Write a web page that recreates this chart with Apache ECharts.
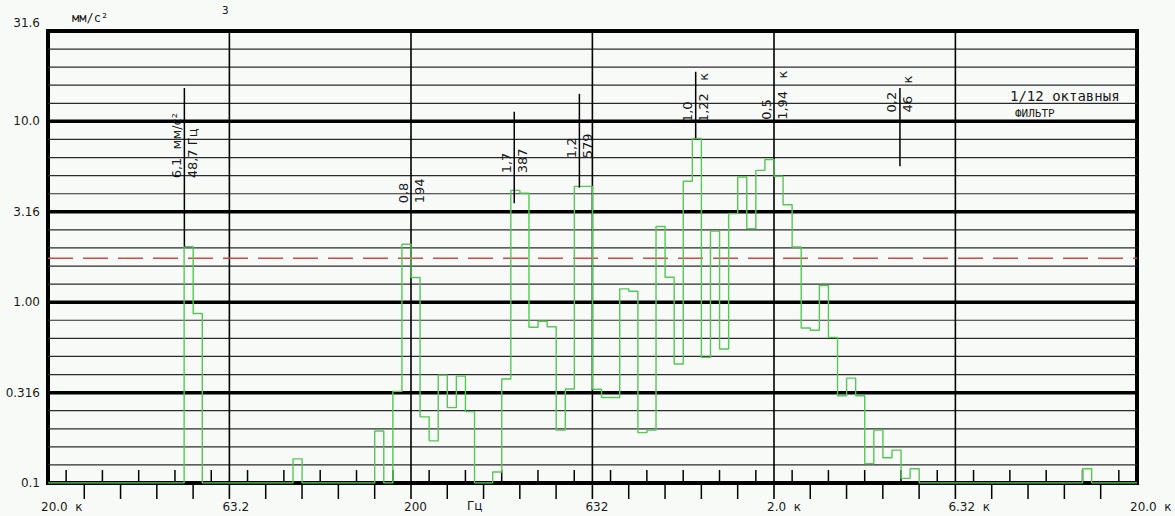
<!DOCTYPE html>
<html>
<head>
<meta charset="utf-8">
<script src="https://cdn.jsdelivr.net/npm/echarts@6/dist/echarts.min.js"></script>
<style>
html,body{margin:0;padding:0;background:#f8faf8;}
#c{width:1175px;height:516px;}
</style>
</head>
<body>
<div id="c"></div>
<script>
// ---------- DATA ----------
// 1/12-octave band levels (mm/s²), 120 bands from 20 Hz to 20 kHz; 0.1 = floor of the scale
const bandLevels = [
  0.1, 0.1, 0.1, 0.1, 0.1, 0.1, 0.1, 0.1, 0.1, 0.1,
  0.1, 0.1, 0.1, 0.1, 0.1, 2.03, 0.865, 0.1, 0.1, 0.1,
  0.1, 0.1, 0.1, 0.1, 0.1, 0.1, 0.1, 0.136, 0.1, 0.1,
  0.1, 0.1, 0.1, 0.1, 0.1, 0.1, 0.194, 0.1, 0.321, 2.09,
  1.37, 0.232, 0.171, 0.395, 0.261, 0.39, 0.248, 0.1, 0.1, 0.115,
  0.376, 4.15, 4.01, 0.726, 0.784, 0.732, 0.196, 0.331, 4.37, 4.37,
  0.33, 0.297, 0.297, 1.185, 1.149, 0.19, 0.196, 2.62, 1.374, 0.455,
  4.66, 8.04, 0.495, 2.47, 0.551, 3.09, 4.92, 2.55, 5.36, 6.15,
  4.97, 3.46, 2.02, 0.72, 0.70, 1.236, 0.639, 0.304, 0.38, 0.304,
  0.128, 0.196, 0.138, 0.152, 0.106, 0.12, 0.1, 0.1, 0.1, 0.1,
  0.1, 0.1, 0.1, 0.1, 0.1, 0.1, 0.1, 0.1, 0.1, 0.1,
  0.1, 0.1, 0.1, 0.1, 0.12, 0.1, 0.1, 0.1, 0.1, 0.1
];
const bandsPerDecade = 40;

const yMajorValues = [0.1, 0.316, 1.0, 3.16, 10.0, 31.6];
const yMajorLabels = ['0.1', '0.316', '1.00', '3.16', '10.0', '31.6'];

const xMajorFreqs = [20, 63.2, 200, 632, 2000, 6320, 20000];
const xMajorLabels = ['20.0  к', '63.2', '200', '632', '2.0  к', '6.32  к', '20.0  к'];

const limitLevel = 1.75;

// peak markers
const markerFreqs   = [47.5, 200, 385, 582, 1217, 2000, 4446];
const markerTops    = [15.3, null, 11.3, 14.2, 18.8, null, 15.3];
const markerBottoms = [2.03, null, 3.53, 4.30, 8.07, null, 5.65];
const markerTextA   = ['6,1  мм/с²', '0,8', '1,7', '1,2', '1,0', '0,5', '0,2'];
const markerTextB   = ['48,7 Гц', '194', '387', '579', '1,22   к', '1,94   к', '46   к'];
const markerTextEnd = [4.84, 3.52, 5.16, 6.25, 9.9, 10.2, 11.2];

// ---------- BUILD ----------
const X_MIN = xMajorFreqs[0], X_MAX = xMajorFreqs[xMajorFreqs.length - 1];
const Y_MIN = yMajorValues[0], Y_MAX = yMajorValues[yMajorValues.length - 1];

const stepData = [];
bandLevels.forEach((v, k) => {
  const lo = X_MIN * Math.pow(10, k / bandsPerDecade);
  const hi = X_MIN * Math.pow(10, (k + 1) / bandsPerDecade);
  stepData.push([lo, v], [hi, v]);
});

const hGridData = [];
for (let i = 0; i < yMajorValues.length; i++) {
  if (i > 0 && i < yMajorValues.length - 1) hGridData.push([X_MIN, yMajorValues[i], 1]);
  if (i < yMajorValues.length - 1) {
    const a = yMajorValues[i], b = yMajorValues[i + 1];
    for (let j = 1; j < 5; j++) hGridData.push([X_MIN, a * Math.pow(b / a, j / 5), 0]);
  }
}
const vGridData = xMajorFreqs.slice(1, -1).map(f => [f, Y_MIN]);

const tickData = [];
for (let i = 0; i < xMajorFreqs.length - 1; i++) {
  const a = xMajorFreqs[i], b = xMajorFreqs[i + 1];
  for (let j = 1; j < 10; j++) tickData.push([a * Math.pow(b / a, j / 10), Y_MIN, j % 2]);
}

const INK = '#1a1a1a';
const AX_FONT = '12px "DejaVu Sans"';
const MK_FONT = '13px "DejaVu Sans"';
const MONO = '"DejaVu Sans Mono"';

function lineEl(p1, p2, stroke, w, dash) {
  return { type: 'line', shape: { x1: p1[0], y1: p1[1], x2: p2[0], y2: p2[1] },
           style: { stroke: stroke, lineWidth: w, lineDash: dash || null } };
}

const chart = echarts.init(document.getElementById('c'), null, { renderer: 'svg', width: 1175, height: 516 });

const option = {
  backgroundColor: '#f8faf8',
  animation: false,
  grid: { left: 48, right: 38, top: 31, bottom: 33, show: true, borderColor: '#000', borderWidth: 4, backgroundColor: 'transparent' },
  xAxis: { type: 'log', logBase: 10, min: X_MIN, max: X_MAX, show: false },
  yAxis: { type: 'log', logBase: 10, min: Y_MIN, max: Y_MAX, show: false },
  series: [
    { // horizontal grid lines
      type: 'custom', silent: true, z: 2, data: hGridData,
      renderItem: (params, api) => {
        const v = api.value(1), major = api.value(2) === 1;
        return lineEl(api.coord([X_MIN, v]), api.coord([X_MAX, v]), major ? '#000' : '#2a2a2a', major ? 3.5 : 1.2);
      }
    },
    { // vertical grid lines (extend below the axis)
      type: 'custom', silent: true, z: 2, data: vGridData,
      renderItem: (params, api) => {
        const f = api.value(0);
        const top = api.coord([f, Y_MAX]), bot = api.coord([f, Y_MIN]);
        return lineEl(top, [bot[0], bot[1] + 16], '#000', 1.6);
      }
    },
    { // minor ticks on the frequency axis
      type: 'custom', silent: true, z: 2, data: tickData,
      renderItem: (params, api) => {
        const p = api.coord([api.value(0), Y_MIN]);
        return api.value(2) === 1
          ? lineEl([p[0], p[1] - 13], [p[0], p[1] - 1], '#000', 1.5)
          : lineEl([p[0], p[1] + 2], [p[0], p[1] + 16], '#000', 1.5);
      }
    },
    { // limit line
      type: 'custom', silent: true, z: 3, data: [[X_MIN, limitLevel]],
      renderItem: (params, api) => {
        const v = api.value(1);
        return lineEl(api.coord([X_MIN, v]), api.coord([X_MAX, v]), '#cc4a4a', 1.5, [25, 10]);
      }
    },
    { // spectrum
      type: 'line', data: stepData, showSymbol: false, silent: true, z: 5,
      lineStyle: { color: '#55c855', width: 1.4 }
    },
    { // peak markers
      type: 'custom', silent: true, z: 6, data: markerFreqs.map((f, i) => [f, markerTextEnd[i], i]),
      renderItem: (params, api) => {
        const i = api.value(2), f = api.value(0);
        const children = [];
        if (markerTops[i] != null) {
          children.push(lineEl(api.coord([f, markerTops[i]]), api.coord([f, markerBottoms[i]]), '#000', 1.5));
        }
        const a = api.coord([f, markerTextEnd[i]]);
        children.push({ type: 'text', x: a[0] - 8, y: a[1], rotation: Math.PI / 2,
          style: { text: markerTextA[i], font: MK_FONT, fill: INK, align: 'left', verticalAlign: 'middle' } });
        children.push({ type: 'text', x: a[0] + 8, y: a[1], rotation: Math.PI / 2,
          style: { text: markerTextB[i], font: MK_FONT, fill: INK, align: 'left', verticalAlign: 'middle' } });
        return { type: 'group', children };
      }
    },
    { // y-axis labels
      type: 'custom', silent: true, z: 6, data: yMajorValues.map((v, i) => [X_MIN, v, i]),
      renderItem: (params, api) => {
        const i = api.value(2);
        const p = api.coord([X_MIN, yMajorValues[i]]);
        const last = i === yMajorValues.length - 1;
        return { type: 'text', x: p[0] - 8, y: last ? p[1] - 2 : p[1],
          style: { text: yMajorLabels[i], font: AX_FONT, fill: INK, align: 'right', verticalAlign: last ? 'bottom' : 'middle' } };
      }
    },
    { // x-axis labels
      type: 'custom', silent: true, z: 6, data: xMajorFreqs.map((f, i) => [f, Y_MIN, i]),
      renderItem: (params, api) => {
        const i = api.value(2);
        const p = api.coord([xMajorFreqs[i], Y_MIN]);
        return { type: 'text', x: p[0] - 7, y: p[1] + 24,
          style: { text: xMajorLabels[i], font: AX_FONT, fill: INK, align: 'left', verticalAlign: 'middle' } };
      }
    }
  ],
  graphic: [
    { type: 'text', left: 72, top: 12, style: { text: 'мм/с²', font: '12px ' + MONO, fill: INK } },
    { type: 'text', left: 222, top: 5, style: { text: '3', font: '11px ' + MONO, fill: INK } },
    { type: 'text', left: 467, top: 500, style: { text: 'Гц', font: AX_FONT, fill: INK } },
    { type: 'text', left: 1010, top: 89, style: { text: '1/12 октавныя', font: '14px ' + MONO, fill: INK } },
    { type: 'text', left: 1015, top: 108, style: { text: 'ФИЛЬТР', font: '11px ' + MONO, fill: INK } }
  ]
};
chart.setOption(option);
</script>
</body>
</html>
